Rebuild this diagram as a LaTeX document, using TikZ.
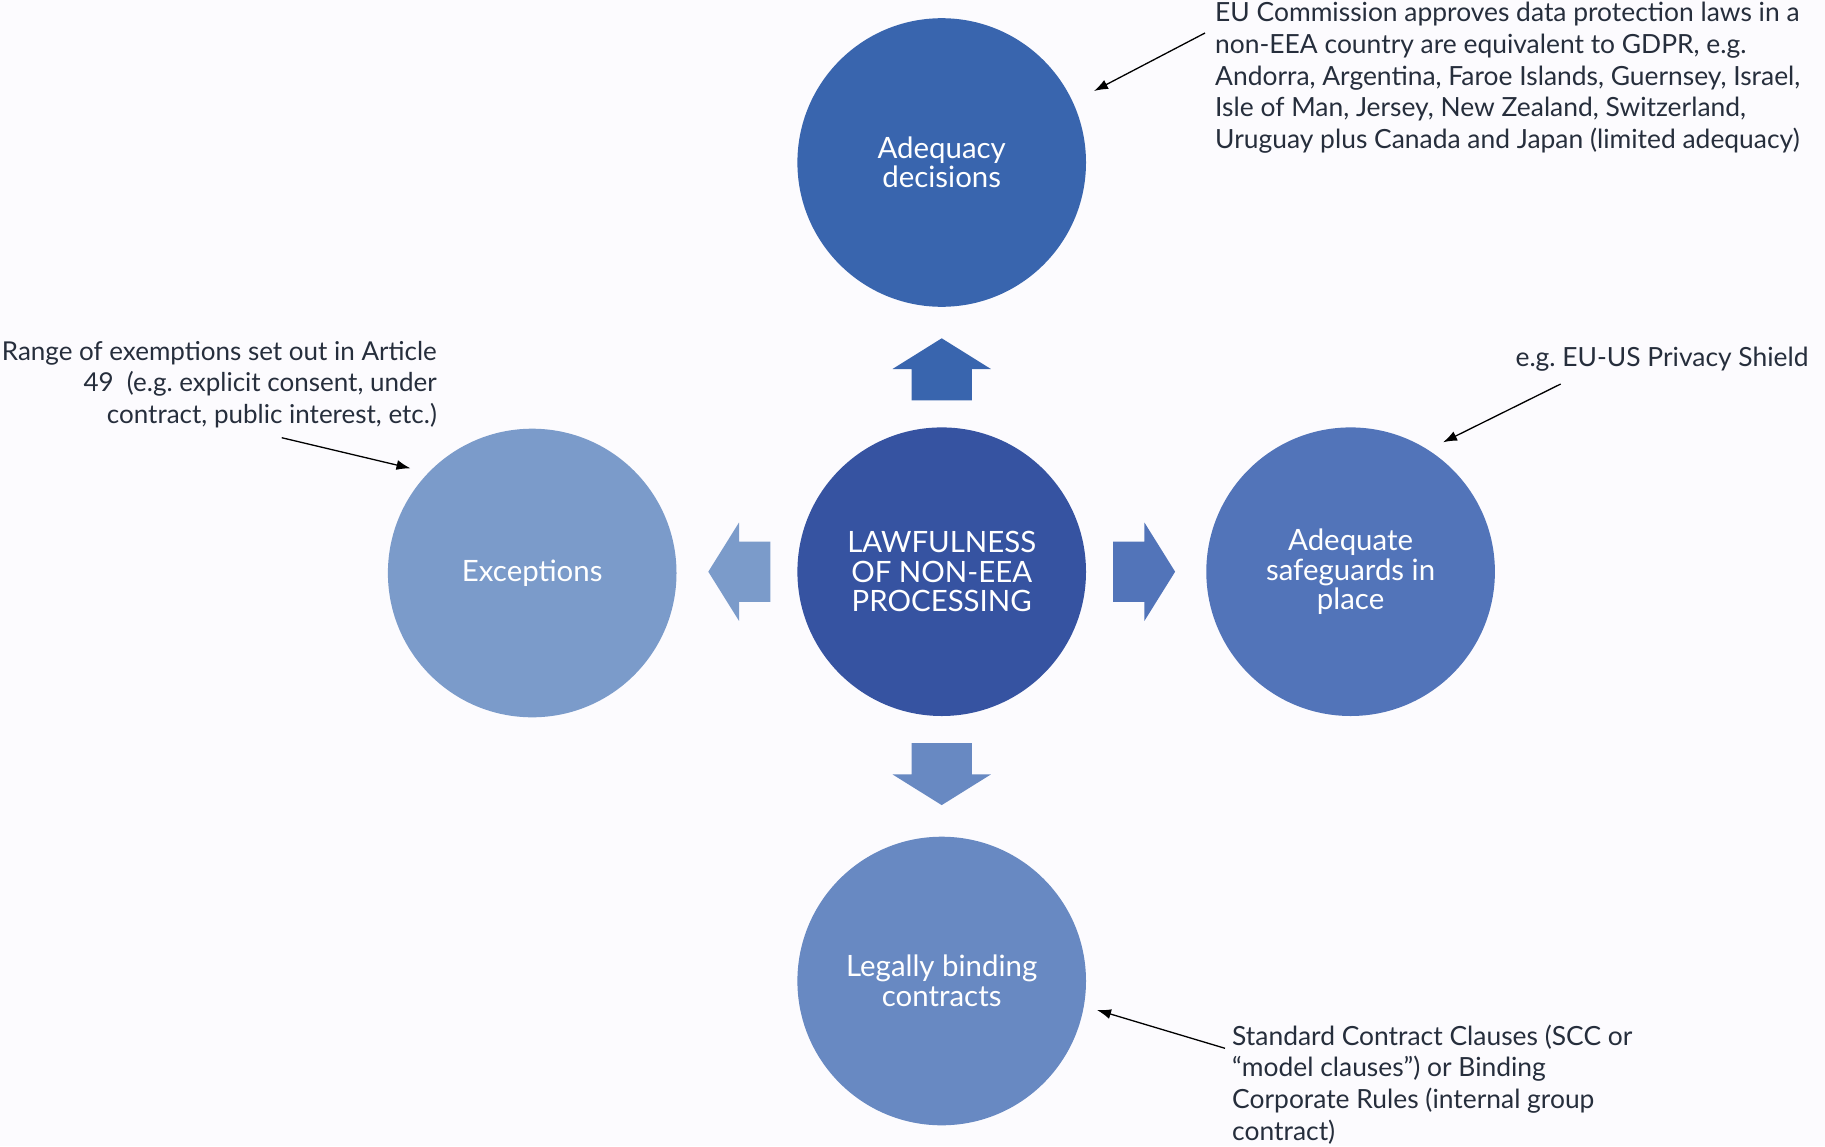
\documentclass[tikz,border=0pt]{standalone}
\usepackage{fontspec}
\setmainfont{Lato}
\usetikzlibrary{arrows.meta}
\frenchspacing
\definecolor{bgc}{RGB}{252,251,254}
\definecolor{ctop}{RGB}{57,101,174}
\definecolor{cmid}{RGB}{54,83,161}
\definecolor{cright}{RGB}{82,116,185}
\definecolor{cleft}{RGB}{123,155,202}
\definecolor{cbot}{RGB}{104,137,194}
\definecolor{txt}{RGB}{38,46,60}
\tikzset{
  bubble/.style={circle, minimum size=288.6pt, inner sep=0pt, text=white, align=center,
    font=\fontsize{29.4}{29.5}\selectfont},
  note/.style={inner sep=0pt, text=txt, font=\fontsize{26.4}{31.6}\selectfont\frenchspacing},
  pointer/.style={line width=1.3pt, black, -{Latex[length=14pt,width=10pt]}},
}
\begin{document}
\begin{tikzpicture}[x=1pt,y=-1pt]
\fill[bgc] (0,0) rectangle (1825,1146);
\useasboundingbox (0,0) rectangle (1825,1146);

% circles
\node[bubble, fill=cmid]   (mid)   at (941.7,571.7) {LAWFULNESS\\OF NON-EEA\\PROCESSING};
\node[bubble, fill=ctop]   (top)   at (941.7,162.5) {Adequacy\\decisions};
\node[bubble, fill=cleft]  (left)  at (532.2,573) {Exceptions};
\node[bubble, fill=cright] (right) at (1350.6,571.7) {Adequate\\safeguards in\\place};
\node[bubble, fill=cbot]   (bot)   at (941.7,981) {Legally binding\\contracts};

% block arrows
\fill[ctop] (941.7,338.3) -- (990.9,369) -- (971.9,369) -- (971.9,400.3) -- (911.5,400.3) -- (911.5,369) -- (892.5,369) -- cycle;
\fill[cbot] (941.7,805.1) -- (990.9,774.4) -- (971.9,774.4) -- (971.9,743.1) -- (911.5,743.1) -- (911.5,774.4) -- (892.5,774.4) -- cycle;
\fill[cleft] (708.3,571.7) -- (739,522.5) -- (739,541.5) -- (770.3,541.5) -- (770.3,601.9) -- (739,601.9) -- (739,620.9) -- cycle;
\fill[cright] (1175.1,571.7) -- (1144.4,522.5) -- (1144.4,541.5) -- (1113.1,541.5) -- (1113.1,601.9) -- (1144.4,601.9) -- (1144.4,620.9) -- cycle;

% annotations (base anchor = baseline of last line)
\node[note, align=left, anchor=base west] (ntop) at (1215,148.2)
  {EU Commission approves data protection laws in a\\non-EEA country are equivalent to GDPR, e.g.\\Andorra, Argentina, Faroe Islands, Guernsey, Israel,\\Isle of Man, Jersey, New Zealand, Switzerland,\\Uruguay plus Canada and Japan (limited adequacy)};
\node[note, align=right, anchor=base east, font=\fontsize{26}{31.2}\selectfont\frenchspacing] (nleft) at (437,423)
  {Range of exemptions set out in Article\\49\ \ (e.g. explicit consent, under\\contract, public interest, etc.)};
\node[note, anchor=base east] (nright) at (1808.7,366) {e.g. EU-US Privacy Shield};
\node[note, align=left, anchor=base west] (nbot) at (1232,1140)
  {Standard Contract Clauses (SCC or\\“model clauses”) or Binding\\Corporate Rules (internal group\\contract)};

% pointer ends
\coordinate (ptop0) at (1205,33);
\coordinate (ptop1) at (1094,91);
\coordinate (pleft0) at (281.7,437.7);
\coordinate (pleft1) at (410.5,468.3);
\coordinate (pright0) at (1560.7,384);
\coordinate (pright1) at (1443,442.3);
\coordinate (pbot0) at (1225,1048.3);
\coordinate (pbot1) at (1097,1010);
\draw[pointer] (ptop0) -- (ptop1);
\draw[pointer] (pleft0) -- (pleft1);
\draw[pointer] (pright0) -- (pright1);
\draw[pointer] (pbot0) -- (pbot1);
\end{tikzpicture}
\end{document}
